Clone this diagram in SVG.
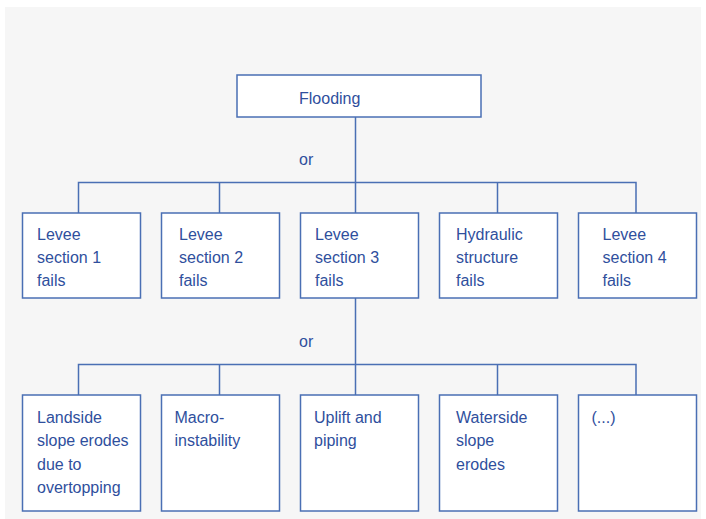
<svg xmlns="http://www.w3.org/2000/svg" width="706" height="519" viewBox="0 0 706 519">
  <style>
    .node rect { fill: #ffffff; stroke: #4a6fb4; stroke-width: 1.5; }
    .lbl { font-family: "Liberation Sans", Arial, sans-serif; font-size: 16px; fill: #2f4f9d; }
    .wire { fill: none; stroke: #4a6fb4; stroke-width: 1.5; }
  </style>
  <rect x="0" y="0" width="706" height="519" fill="#ffffff"/>
  <rect x="5" y="7" width="696" height="512" fill="#f6f6f6"/>

  <g id="connectors">
    <path class="wire" d="M355.5 117 V182.5 M78.5 213 V182.5 H636 V213 M219.5 182.5 V213 M355.5 182.5 V213 M497.5 182.5 V213"/>
    <path class="wire" d="M355.5 298 V364.5 M78.5 395 V364.5 H636 V395 M219.5 364.5 V395 M355.5 364.5 V395 M497.5 364.5 V395"/>
    <text class="lbl" x="299" y="165">or</text>
    <text class="lbl" x="299" y="347">or</text>
  </g>

  <g id="flooding" class="node">
    <rect x="237" y="75" width="244" height="42"/>
    <text class="lbl" x="299" y="104">Flooding</text>
  </g>

  <g id="levee1" class="node">
    <rect x="22.5" y="213" width="118" height="85"/>
    <text class="lbl" x="37" y="240">Levee<tspan x="37" dy="23">section 1</tspan><tspan x="37" dy="23">fails</tspan></text>
  </g>
  <g id="levee2" class="node">
    <rect x="161.5" y="213" width="118" height="85"/>
    <text class="lbl" x="179" y="240">Levee<tspan x="179" dy="23">section 2</tspan><tspan x="179" dy="23">fails</tspan></text>
  </g>
  <g id="levee3" class="node">
    <rect x="300.5" y="213" width="118" height="85"/>
    <text class="lbl" x="315" y="240">Levee<tspan x="315" dy="23">section 3</tspan><tspan x="315" dy="23">fails</tspan></text>
  </g>
  <g id="hydraulic" class="node">
    <rect x="439.5" y="213" width="118" height="85"/>
    <text class="lbl" x="456" y="240">Hydraulic<tspan x="456" dy="23">structure</tspan><tspan x="456" dy="23">fails</tspan></text>
  </g>
  <g id="levee4" class="node">
    <rect x="578.5" y="213" width="118" height="85"/>
    <text class="lbl" x="602.5" y="240">Levee<tspan x="602.5" dy="23">section 4</tspan><tspan x="602.5" dy="23">fails</tspan></text>
  </g>

  <g id="landside" class="node">
    <rect x="22.5" y="395" width="118" height="116"/>
    <text class="lbl" x="37" y="423">Landside<tspan x="37" dy="23.3">slope erodes</tspan><tspan x="37" dy="23.3">due to</tspan><tspan x="37" dy="23.3">overtopping</tspan></text>
  </g>
  <g id="macro" class="node">
    <rect x="161.5" y="395" width="118" height="116"/>
    <text class="lbl" x="174.5" y="423">Macro-<tspan x="174.5" dy="23.3">instability</tspan></text>
  </g>
  <g id="uplift" class="node">
    <rect x="300.5" y="395" width="118" height="116"/>
    <text class="lbl" x="314" y="423">Uplift and<tspan x="314" dy="23.3">piping</tspan></text>
  </g>
  <g id="waterside" class="node">
    <rect x="439.5" y="395" width="118" height="116"/>
    <text class="lbl" x="456" y="423">Waterside<tspan x="456" dy="23.3">slope</tspan><tspan x="456" dy="23.3">erodes</tspan></text>
  </g>
  <g id="other" class="node">
    <rect x="578.5" y="395" width="118" height="116"/>
    <text class="lbl" x="591.5" y="423">(...)</text>
  </g>
</svg>
